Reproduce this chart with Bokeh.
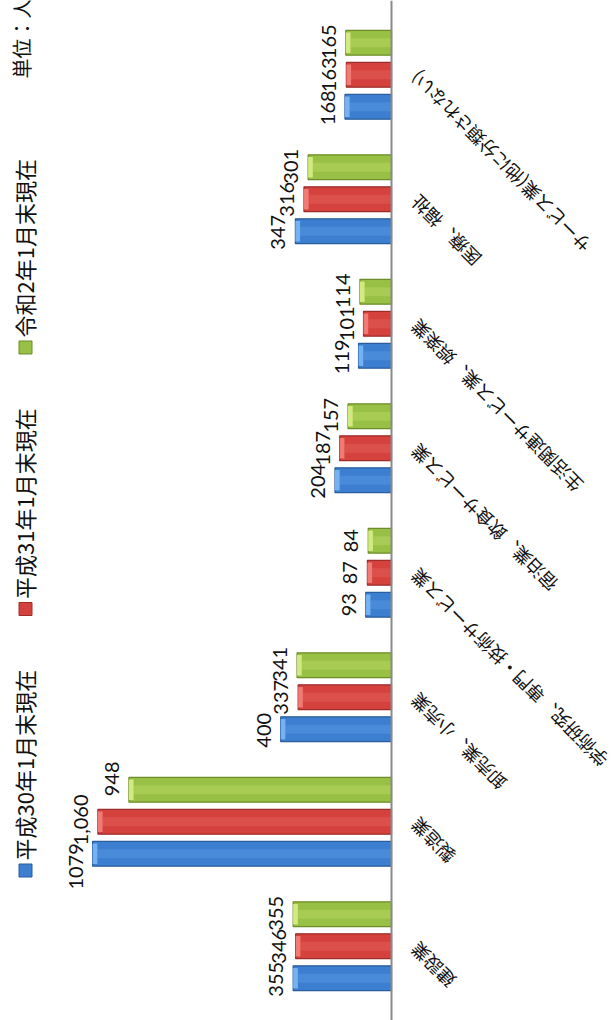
import math
from bokeh.plotting import figure
from bokeh.models import Range1d, FactorRange, ColumnDataSource, Span
from bokeh.transform import dodge
from bokeh.core.properties import value
from bokeh.embed import file_html
from bokeh.resources import INLINE

# ---------------- data ----------------
categories = [
    "建設業",
    "製造業",
    "卸売業、小売業",
    "学術研究、専門・技術サービス業",
    "宿泊業、飲食サービス業",
    "生活関連サービス業、娯楽業",
    "医療、福祉",
    "サービス業(他に分類されない)",
]
series_names = ["平成30年1月末現在", "平成31年1月末現在", "令和2年1月末現在"]
h30_values = [355, 1079, 400, 93, 204, 119, 347, 168]
h31_values = [346, 1060, 337, 87, 187, 101, 316, 163]
r02_values = [355, 948, 341, 84, 157, 114, 301, 165]
h30_labels = ["355", "1079", "400", "93", "204", "119", "347", "168"]
h31_labels = ["346", "1,060", "337", "87", "187", "101", "316", "163"]
r02_labels = ["355", "948", "341", "84", "157", "114", "301", "165"]
unit_label = "単位：人"

# ---------------- style ----------------
edge_colors = ["#2b5c9c", "#9c2d2a", "#6d8d2a"]
mid_colors = ["#3c7ed0", "#d5423e", "#98c044"]
light_colors = ["#74b2f2", "#f27a74", "#d2ea80"]
offsets = [-0.257, 0.0, 0.257]
bar_h = 0.2
cap_w = 17

W, H = 614, 1020
PX_PER_VAL = 0.277
ZERO_PX = 391
X0, X1 = ZERO_PX / PX_PER_VAL, -(W - ZERO_PX) / PX_PER_VAL
PAD_PCT = 0.0241
p = figure(
    width=W, height=H,
    output_backend="svg", toolbar_location=None,
    x_range=Range1d(X0, X1),
    y_range=FactorRange(factors=categories, range_padding=PAD_PCT,
                        range_padding_units="percent"),
    x_axis_location=None, y_axis_location=None,
    min_border=0, outline_line_color=None,
    background_fill_color="white", border_fill_color="white",
)
p.grid.visible = False

n = len(categories)
Y0, Y1 = -n * PAD_PCT / 2, n + n * PAD_PCT / 2
PX_PER_CAT = H / (Y1 - Y0)
def xd(px):
    return X0 + (X1 - X0) * px / W
def yd(py):  # py measured from the bottom of the frame
    return Y0 + (Y1 - Y0) * py / H

all_values = [h30_values, h31_values, r02_values]
all_labels = [h30_labels, h31_labels, r02_labels]

# spread value labels of one category apart so they do not cover each other
DIGIT_W, COMMA_W = 11.0, 5.0
def text_len(s):
    return sum(COMMA_W if ch == "," else DIGIT_W for ch in s)
label_dy = [[0.0] * n for _ in range(3)]
for c in range(n):
    base = [o * PX_PER_CAT for o in offsets]
    pos = list(base)
    w = [text_len(all_labels[i][c]) for i in range(3)]
    for _ in range(60):
        for k in range(2):
            need = (w[k] + w[k + 1]) / 2
            d = pos[k + 1] - pos[k]
            if d < need:
                s = (need - d) / 2
                pos[k] -= s
                pos[k + 1] += s
    for i in range(3):
        label_dy[i][c] = -(pos[i] - base[i])

for i in range(3):
    vals = all_values[i]
    src = ColumnDataSource(dict(
        cat=categories,
        val=vals,
        cap=[v - cap_w for v in vals],
        label=all_labels[i],
        dy=label_dy[i],
    ))
    yy = dodge("cat", offsets[i], range=p.y_range)
    p.hbar(y=yy, left=0, right="val", height=bar_h, source=src,
           fill_color=mid_colors[i], line_color=edge_colors[i], line_width=1.2)
    p.hbar(y=yy, left=0, right="cap", height=bar_h * 0.36, source=src,
           fill_color=light_colors[i], fill_alpha=0.25, line_color=None)
    p.hbar(y=yy, left="cap", right="val", height=bar_h * 0.82, source=src,
           fill_color=light_colors[i], line_color=None)
    p.text(x="val", y=yy, text="label", source=src, angle=math.pi / 2,
           text_align="center", text_baseline="bottom", x_offset=-10, y_offset="dy",
           text_font=value("Lato"), text_font_size="20px", text_color="#111111")

# axis line
p.add_layout(Span(location=0, dimension="height", line_color="#8a8a8a", line_width=2))

# category labels (rotated)
cat_src = ColumnDataSource(dict(cat=categories, x=[0] * n))
p.text(x="x", y="cat", text="cat", source=cat_src, angle=3 * math.pi / 4,
       text_align="right", text_baseline="middle", x_offset=22,
       text_font=value("Noto Sans CJK JP"), text_font_size="18px", text_color="#111111")

# legend (rotated)
leg_y0, leg_step = 150, 261.5
sq_py = [leg_y0 + k * leg_step for k in range(3)]
txt_py = [y + 10 for y in sq_py]
p.rect(x=[xd(25)] * 3, y=[yd(v) for v in sq_py], width=13, height=13,
       width_units="screen", height_units="screen",
       fill_color=mid_colors, line_color=edge_colors, line_width=1)
p.text(x=[xd(23)] * 3, y=[yd(v) for v in txt_py], text=series_names,
       angle=math.pi / 2, text_align="left", text_baseline="middle",
       text_font=value("Noto Sans CJK JP"), text_font_size="22px", text_color="#111111")
p.text(x=[xd(21)], y=[yd(942)], text=[unit_label],
       angle=math.pi / 2, text_align="left", text_baseline="middle",
       text_font=value("Noto Sans CJK JP"), text_font_size="20px", text_color="#111111")

open("out.html", "w").write(file_html(p, INLINE))
